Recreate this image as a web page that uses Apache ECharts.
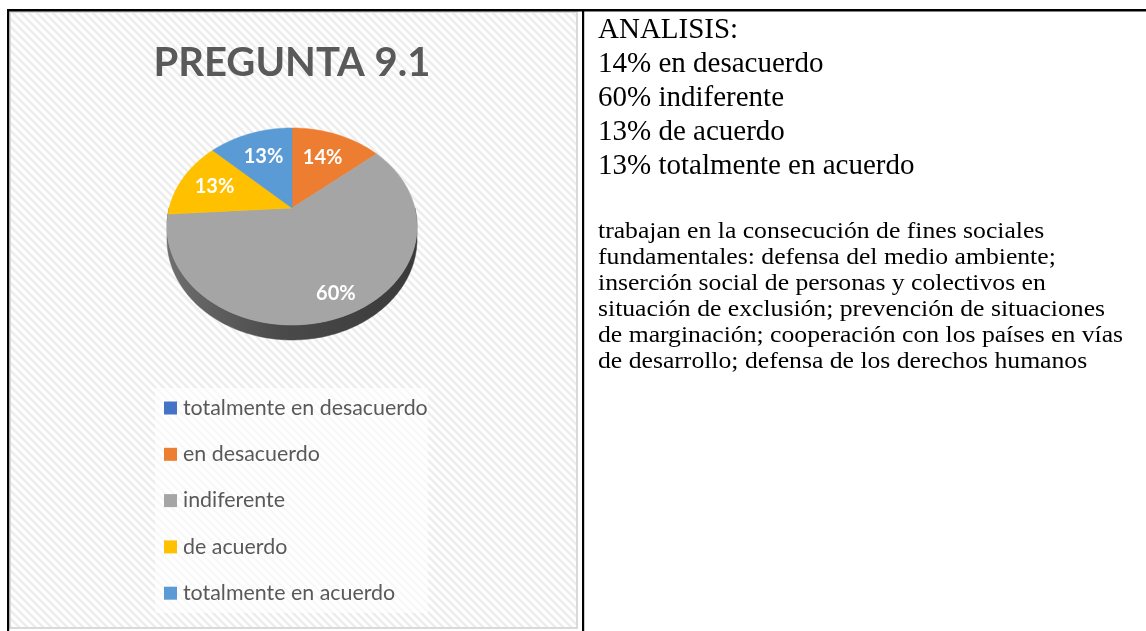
<!DOCTYPE html>
<html>
<head>
<meta charset="utf-8">
<script src="https://cdn.jsdelivr.net/npm/echarts@6/dist/echarts.min.js"></script>
<style>
  html, body { margin: 0; padding: 0; background: #ffffff; }
  #chart { width: 1146px; height: 631px; }
</style>
</head>
<body>
<div id="chart"></div>
<script>
// ---- data ----
const categories = ['totalmente en desacuerdo', 'en desacuerdo', 'indiferente', 'de acuerdo', 'totalmente en acuerdo'];
const values = [0, 14, 60, 13, 13];
const sliceColors = ['#4472C4', '#ED7D31', '#A5A5A5', '#FFC000', '#5B9BD5'];
const chartTitle = 'PREGUNTA 9.1';
const analysisTitle = 'ANALISIS:';
const analysisLines = ['14% en desacuerdo', '60% indiferente', '13% de acuerdo', '13% totalmente en acuerdo'];
const paragraphLines = [
  'trabajan en la consecución de fines sociales',
  'fundamentales: defensa del medio ambiente;',
  'inserción social de personas y colectivos en',
  'situación de exclusión; prevención de situaciones',
  'de marginación; cooperación con los países en vías',
  'de desarrollo; defensa de los derechos humanos'
];

// ---- 3D pie geometry (tilted disc with perspective) ----
const PIE = { cx: 292, cy: 208, R: 122.8, A: 95, p: 0.1878, depth: 12.2 };
const labelRadius = [0.65, 0.65, 0.83, 0.7, 0.65];

const total = values.reduce((s, v) => s + v, 0);
const startAngles = [];
values.reduce((acc, v, i) => { startAngles[i] = acc; return acc + v / total * 360; }, 0);

// angle in degrees clockwise from 12 o'clock, r = fraction of radius, drop = extrusion
function project(deg, r, drop) {
  const a = deg * Math.PI / 180;
  const sx = Math.sin(a) * r;
  const u = -Math.cos(a) * r;
  const s = 1 / (1 - PIE.p * u);
  return [PIE.cx + PIE.R * sx * s, PIE.cy + PIE.A * u * s + drop * s];
}

function arc(a0, a1, drop) {
  const pts = [];
  const n = Math.max(2, Math.ceil((a1 - a0) / 1));
  for (let k = 0; k <= n; k++) pts.push(project(a0 + (a1 - a0) * k / n, 1, drop));
  return pts;
}

const sideFill = {
  type: 'linear', global: true,
  x: PIE.cx - PIE.R, y: 0, x2: PIE.cx + PIE.R, y2: 0,
  colorStops: [
    { offset: 0, color: '#6e6e6e' },
    { offset: 0.45, color: '#4a4a4a' },
    { offset: 1, color: '#3a3a3a' }
  ]
};

function renderSide(params) {
  const i = params.dataIndex;
  const a0 = startAngles[i], a1 = a0 + values[i] / total * 360;
  const s0 = Math.max(a0, 90), s1 = Math.min(a1, 270);
  if (s1 <= s0) return null;
  const top = arc(s0, s1, 0);
  const bottom = arc(s0, s1, PIE.depth).reverse();
  return {
    type: 'polygon',
    shape: { points: top.concat(bottom) },
    style: { fill: sideFill, stroke: sideFill, lineWidth: 0.5 }
  };
}

function renderTop(params) {
  const i = params.dataIndex;
  if (values[i] <= 0) return null;
  const a0 = startAngles[i], a1 = a0 + values[i] / total * 360;
  const pts = [project(0, 0, 0)].concat(arc(a0, a1, 0));
  const mid = (a0 + a1) / 2;
  const lp = project(mid, labelRadius[i], 0);
  return {
    type: 'group',
    children: [
      {
        type: 'polygon',
        shape: { points: pts },
        style: { fill: sliceColors[i], stroke: sliceColors[i], lineWidth: 0.6 }
      },
      {
        type: 'text',
        x: lp[0], y: lp[1],
        style: {
          text: Math.round(values[i] / total * 100) + '%',
          fill: '#ffffff',
          font: 'bold 20px Lato',
          align: 'center', verticalAlign: 'middle'
        }
      }
    ]
  };
}

// ---- diagonal hatch for the chart area ----
function hatchTile() {
  const c = document.createElement('canvas');
  c.width = 8; c.height = 8;
  const g = c.getContext('2d');
  g.fillStyle = '#ffffff';
  g.fillRect(0, 0, 8, 8);
  g.strokeStyle = '#ededed';
  g.lineWidth = 2.6;
  g.beginPath();
  g.moveTo(-2, -2); g.lineTo(10, 10);
  g.moveTo(-2, 6); g.lineTo(2, 10);
  g.moveTo(6, -2); g.lineTo(10, 2);
  g.stroke();
  return c;
}

// ---- legend, built from the category list ----
const legendItems = [];
categories.forEach((name, i) => {
  const y = 408 + i * 46.3;
  legendItems.push({
    type: 'rect', z: 20,
    shape: { x: 164, y: y - 6.5, width: 13, height: 13 },
    style: { fill: sliceColors[i] }
  });
  legendItems.push({
    type: 'text', z: 20, x: 183, y: y,
    style: { text: name, fill: '#595959', font: '21.4px Lato', verticalAlign: 'middle' }
  });
});

// ---- analysis text column ----
const textItems = [];
[analysisTitle].concat(analysisLines).forEach((t, i) => {
  textItems.push({
    type: 'text', z: 20, x: 598, y: 30 + i * 34.2,
    style: { text: t, fill: '#000000', font: '29px "Liberation Serif"', verticalAlign: 'middle' }
  });
});
paragraphLines.forEach((t, i) => {
  textItems.push({
    type: 'text', z: 20, x: 598, y: 232 + i * 26, scaleX: 1.07,
    style: { text: t, fill: '#000000', font: '24px "Liberation Serif"', verticalAlign: 'middle' }
  });
});

const chart = echarts.init(document.getElementById('chart'), null, { renderer: 'canvas' });
chart.setOption({
  backgroundColor: '#ffffff',
  animation: false,
  graphic: {
    elements: [
      // chart area with hatch and light frame
      {
        type: 'rect', z: -10,
        shape: { x: 10, y: 12, width: 567, height: 616 },
        style: { fill: { image: hatchTile(), repeat: 'repeat' }, stroke: '#d9d9d9', lineWidth: 2 }
      },
      // legend box
      {
        type: 'rect', z: -5,
        shape: { x: 155, y: 388, width: 273, height: 225 },
        style: { fill: 'rgba(255,255,255,0.6)' }
      },
      // table rules
      { type: 'rect', z: 30, shape: { x: 7, y: 9, width: 1139, height: 2.4 }, style: { fill: '#000' } },
      { type: 'rect', z: 30, shape: { x: 7, y: 9, width: 2.2, height: 622 }, style: { fill: '#000' } },
      { type: 'rect', z: 30, shape: { x: 582, y: 9, width: 2.2, height: 622 }, style: { fill: '#000' } },
      // chart title
      {
        type: 'text', z: 20, x: 292, y: 63,
        style: { text: chartTitle, fill: '#595959', font: 'bold 40px Lato', align: 'center', verticalAlign: 'middle' }
      }
    ].concat(legendItems, textItems)
  },
  series: [
    {
      type: 'custom', name: 'side', coordinateSystem: 'none', z: 2,
      data: values, renderItem: renderSide, silent: true
    },
    {
      type: 'custom', name: 'top', coordinateSystem: 'none', z: 3,
      data: values, renderItem: renderTop, silent: true
    }
  ]
});
</script>
</body>
</html>
